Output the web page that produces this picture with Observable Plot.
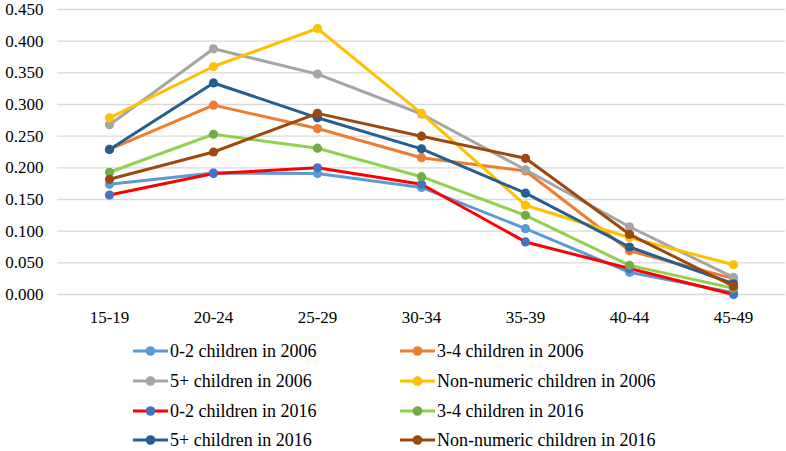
<!DOCTYPE html>
<html>
<head>
<meta charset="utf-8">
<script src="https://cdn.jsdelivr.net/npm/d3@7"></script>
<script src="https://cdn.jsdelivr.net/npm/@observablehq/plot@0.6"></script>
<style>
  html, body { margin: 0; padding: 0; background: #fff; }
  body { width: 786px; height: 451px; overflow: hidden; font-family: "Liberation Serif", "DejaVu Serif", "Times New Roman", serif; }
  #legend { position: relative; width: 786px; height: 126px; }
  .item { position: absolute; display: flex; align-items: center; font-size: 18px; color: #000; white-space: nowrap; }
  .item svg { margin-right: 2px; }
  svg text { font-family: "Liberation Serif", "DejaVu Serif", "Times New Roman", serif; }
</style>
</head>
<body>
<div id="chart"></div>
<div id="legend"></div>
<script>
const ageGroups = ["15-19", "20-24", "25-29", "30-34", "35-39", "40-44", "45-49"];

const seriesNames = [
  "0-2 children in 2006",
  "3-4 children in 2006",
  "5+ children in 2006",
  "Non-numeric children in 2006",
  "0-2 children in 2016",
  "3-4 children in 2016",
  "5+ children in 2016",
  "Non-numeric children in 2016"
];

const kids02_2006 = [0.174, 0.192, 0.191, 0.169, 0.104, 0.035, 0.003];
const kids34_2006 = [0.229, 0.299, 0.262, 0.216, 0.195, 0.069, 0.025];
const kids5p_2006 = [0.268, 0.388, 0.348, 0.285, 0.197, 0.107, 0.027];
const kidsNN_2006 = [0.279, 0.360, 0.420, 0.286, 0.141, 0.090, 0.047];
const kids02_2016 = [0.157, 0.191, 0.200, 0.174, 0.083, 0.041, 0.000];
const kids34_2016 = [0.193, 0.253, 0.231, 0.186, 0.125, 0.046, 0.010];
const kids5p_2016 = [0.229, 0.334, 0.279, 0.230, 0.160, 0.075, 0.017];
const kidsNN_2016 = [0.182, 0.225, 0.286, 0.250, 0.215, 0.095, 0.013];

const seriesValues = [kids02_2006, kids34_2006, kids5p_2006, kidsNN_2006,
                      kids02_2016, kids34_2016, kids5p_2016, kidsNN_2016];

const lineColors   = ["#5B9BD5", "#ED7D31", "#A5A5A5", "#FFC000", "#FF0000", "#92D050", "#255E91", "#9E480E"];
const markerColors = ["#5B9BD5", "#ED7D31", "#A5A5A5", "#FFC000", "#4472C4", "#70AD47", "#255E91", "#9E480E"];

const yTicks = [0, 0.05, 0.1, 0.15, 0.2, 0.25, 0.3, 0.35, 0.4, 0.45];

const rows = seriesNames.map((name, s) =>
  ageGroups.map((age, i) => ({series: name, idx: s, age, value: seriesValues[s][i]}))
);

const marks = [
  Plot.ruleY(yTicks, {stroke: "#D9D9D9", strokeWidth: 1.3})
];
rows.forEach((data, s) => {
  marks.push(Plot.line(data, {x: "age", y: "value", stroke: lineColors[s], strokeWidth: 3, strokeLinejoin: "round", curve: "linear"}));
  marks.push(Plot.dot(data, {x: "age", y: "value", fill: markerColors[s], r: 4.6, stroke: "none"}));
});
marks.push(Plot.axisY(yTicks, {tickSize: 0, tickPadding: 14, tickFormat: d3.format(".3f"), fontSize: 17, label: null}));
marks.push(Plot.axisX({tickSize: 0, tickPadding: 16, fontSize: 17, label: null}));

const chart = Plot.plot({
  width: 786,
  height: 325,
  marginTop: 9,
  marginBottom: 31,
  marginLeft: 57,
  marginRight: 1,
  style: {fontFamily: "'Liberation Serif', 'DejaVu Serif', 'Times New Roman', serif", color: "#000", background: "#fff", overflow: "visible"},
  x: {type: "point", domain: ageGroups, padding: 0.5},
  y: {domain: [0, 0.45]},
  marks
});
document.getElementById("chart").appendChild(chart);

// Legend
const legend = document.getElementById("legend");
const colX = [133, 400];
const rowY = [26, 56, 86, 115];
seriesNames.forEach((name, s) => {
  const col = s % 2, row = Math.floor(s / 2);
  const div = document.createElement("div");
  div.className = "item";
  div.style.left = colX[col] + "px";
  div.style.top = (rowY[row] - 11) + "px";
  div.style.height = "22px";
  const svg = d3.create("svg").attr("width", 35).attr("height", 22);
  svg.append("line").attr("x1", 0).attr("x2", 35).attr("y1", 11).attr("y2", 11)
    .attr("stroke", lineColors[s]).attr("stroke-width", 3);
  svg.append("circle").attr("cx", 17.5).attr("cy", 11).attr("r", 4.8).attr("fill", markerColors[s]);
  div.appendChild(svg.node());
  const span = document.createElement("span");
  span.textContent = name;
  div.appendChild(span);
  legend.appendChild(div);
});
</script>
</body>
</html>
